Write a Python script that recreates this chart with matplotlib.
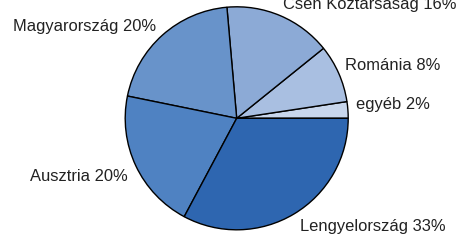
import matplotlib
matplotlib.use("Agg")
import matplotlib.pyplot as plt

# ------------------------------
# Data (order: counter-clockwise from 3 o'clock)
# ------------------------------
countries = ["egyéb", "Románia", "Cseh Köztársaság", "Magyarország", "Ausztria", "Lengyelország"]
shares = [2.4, 8.4, 15.6, 20.4, 20.4, 32.8]
colors = ["#c8d6ec", "#a9bfe1", "#8caad6", "#6893ca", "#4f82c2", "#2e66b0"]

# label anchor points in figure pixels (left x, baseline y from top)
label_pos = [(356, 109), (345, 70), (283, 8.5), (13, 31), (30, 181), (300, 231.5)]

W, H = 465, 240
fig = plt.figure(figsize=(W / 100, H / 100), dpi=100)
fig.patch.set_facecolor("white")

# pie centre / radius in pixels
cx, cy, r = 236.7, 118.3, 111.5
ax = fig.add_axes([(cx - r) / W, (H - cy - r) / H, 2 * r / W, 2 * r / H])
ax.pie(shares, colors=colors, startangle=0, counterclock=True, radius=1,
       wedgeprops=dict(edgecolor="black", linewidth=1.0))
ax.set_xlim(-1, 1)
ax.set_ylim(-1, 1)
ax.axis("off")

for name, val, (px, py) in zip(countries, shares, label_pos):
    fig.text(px / W, 1 - py / H, f"{name} {round(val)}%", ha="left", va="baseline",
             fontsize=11.9, family="Liberation Sans", color="#222222")

plt.savefig("out.png", dpi=100)
